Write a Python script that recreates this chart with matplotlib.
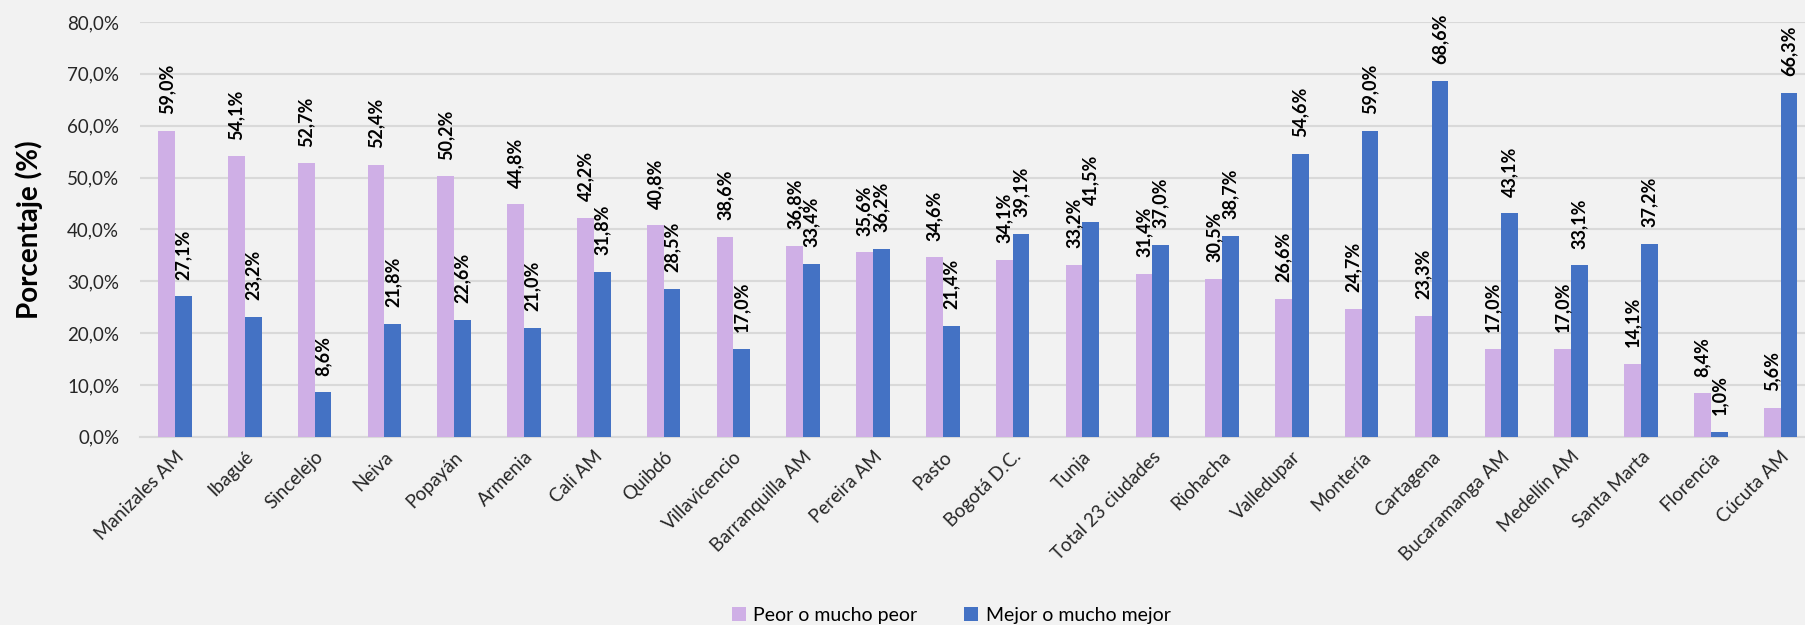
import matplotlib.pyplot as plt
import numpy as np
from matplotlib.ticker import FuncFormatter

ciudades = ["Manizales AM", "Ibagué", "Sincelejo", "Neiva", "Popayán", "Armenia",
            "Cali AM", "Quibdó", "Villavicencio", "Barranquilla AM", "Pereira AM",
            "Pasto", "Bogotá D.C.", "Tunja", "Total 23 ciudades", "Riohacha",
            "Valledupar", "Montería", "Cartagena", "Bucaramanga AM", "Medellín AM",
            "Santa Marta", "Florencia", "Cúcuta AM"]
peor = [59.0, 54.1, 52.7, 52.4, 50.2, 44.8, 42.2, 40.8, 38.6, 36.8, 35.6, 34.6,
        34.1, 33.2, 31.4, 30.5, 26.6, 24.7, 23.3, 17.0, 17.0, 14.1, 8.4, 5.6]
mejor = [27.1, 23.2, 8.6, 21.8, 22.6, 21.0, 31.8, 28.5, 17.0, 33.4, 36.2, 21.4,
         39.1, 41.5, 37.0, 38.7, 54.6, 59.0, 68.6, 43.1, 33.1, 37.2, 1.0, 66.3]

plt.rcParams['font.family'] = ['Lato', 'DejaVu Sans']
BG = '#F2F2F2'
C_PEOR = '#CFAFE6'
C_MEJOR = '#4472C4'

fig = plt.figure(figsize=(18.05, 6.25), dpi=100, facecolor=BG)
ax = fig.add_axes([0.0776, 0.301, 0.9224, 0.664], facecolor=BG)

x = np.arange(len(ciudades))
w = 0.24
b1 = ax.bar(x - w / 2, peor, w, color=C_PEOR, label='Peor o mucho peor', zorder=3)
b2 = ax.bar(x + w / 2, mejor, w, color=C_MEJOR, label='Mejor o mucho mejor', zorder=3)

def fmt(v):
    return f"{v:.1f}%".replace('.', ',')

for bars, vals in [(b1, peor), (b2, mejor)]:
    for r, v in zip(bars, vals):
        ax.annotate(fmt(v), (r.get_x() + r.get_width() / 2, v), xytext=(0, 12),
                    textcoords='offset points', rotation=90, ha='center', va='bottom',
                    fontsize=13, fontweight='bold', color='black')

ax.set_ylim(0, 80)
ax.set_xlim(-0.50, 23.35)
ax.set_yticks(np.arange(0, 81, 10))
ax.yaxis.set_major_formatter(FuncFormatter(lambda v, p: fmt(v)))
ax.grid(axis='y', color='#D9D9D9', lw=1.5, zorder=0)
ax.tick_params(axis='y', length=0, labelsize=13.5, colors='#262626', pad=15)
ax.tick_params(axis='x', length=0, labelsize=13.5, colors='#262626', pad=8)
ax.set_xticks(x)
ax.set_xticklabels(ciudades, rotation=45, ha='right', rotation_mode='anchor')
for s in ['top', 'right', 'left']:
    ax.spines[s].set_visible(False)
ax.spines['bottom'].set_color('#D9D9D9')
ax.spines['bottom'].set_linewidth(1.5)
ax.set_ylabel('Porcentaje (%)', fontsize=20, fontweight='bold', labelpad=17)

fig.legend(handles=[b1, b2], loc='center', bbox_to_anchor=(0.527, 0.016), ncol=2,
           frameon=False, fontsize=14, handlelength=0.7, handleheight=0.7,
           columnspacing=2.4, handletextpad=0.4)

fig.savefig('out.png', dpi=100, facecolor=BG)
